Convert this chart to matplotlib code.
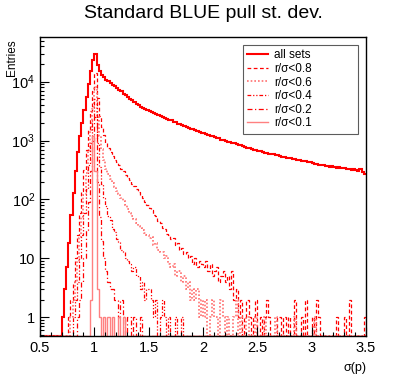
import numpy as np
import matplotlib
matplotlib.use('Agg')
import matplotlib.pyplot as plt
from matplotlib.ticker import FixedLocator, FixedFormatter, NullFormatter

plt.rcParams['font.family'] = ['Liberation Sans', 'DejaVu Sans']
plt.rcParams['mathtext.fontset'] = 'custom'
plt.rcParams['mathtext.rm'] = 'Liberation Sans'
plt.rcParams['mathtext.it'] = 'Liberation Sans:italic'

# binning: 150 bins from 0.5 to 3.5
x_lo, x_hi, n_bins = 0.5, 3.5, 150

# bin contents, 25 bins per row (0.5 units)
all_sets = [
    0, 0, 0, 0, 0, 0, 0, 0, 0, 0, 1, 3, 7, 18, 55, 130, 300, 650, 1200, 2000, 3300, 5500, 9000, 15000, 23000,
    30000, 19000, 15000, 13000, 11800, 10800, 10100, 9400, 8900, 8300, 7800, 7250, 6850, 6300, 5950, 5500, 5100, 4850, 4450, 4250, 4000, 3780, 3620, 3450, 3310,
    3200, 3040, 2950, 2790, 2710, 2600, 2490, 2430, 2330, 2270, 2200, 2100, 2030, 1940, 1890, 1820, 1750, 1710, 1630, 1600, 1550, 1490, 1460, 1400, 1370,
    1320, 1295, 1240, 1215, 1175, 1150, 1105, 1085, 1040, 1030, 1000, 960, 950, 915, 900, 870, 840, 830, 795, 785, 760, 735, 730, 700, 695,
    675, 655, 650, 625, 620, 600, 585, 585, 565, 563, 550, 535, 535, 515, 512, 500, 485, 487, 470, 468, 457, 445, 445, 428, 430,
    417, 405, 406, 390, 392, 380, 372, 374, 362, 363, 355, 348, 352, 342, 346, 340, 330, 335, 322, 324, 316, 306, 325, 288, 268,
]
r08 = [
    0, 0, 0, 0, 0, 0, 0, 0, 0, 0, 0, 0, 0, 1, 2, 4, 10, 25, 60, 140, 320, 700, 1500, 3200, 7000,
    14000, 5200, 2600, 1700, 1250, 920, 760, 640, 540, 470, 430, 380, 335, 300, 265, 235, 210, 185, 166, 148, 132, 118, 104, 92, 82,
    72, 66, 55, 52, 43, 40, 33, 31, 26, 25, 21, 22, 17, 18, 14, 15, 12, 13, 10, 11, 8, 10, 7, 9, 8,
    7, 9, 6, 8, 5, 6, 7, 4, 5, 6, 4, 5, 3, 6, 2, 3, 1, 2, 0, 1, 2, 1, 0, 1, 2,
    0, 1, 0, 1, 2, 1, 0, 0, 0, 1, 1, 0, 1, 0, 1, 0, 0, 2, 0, 0, 1, 0, 2, 0, 0,
    1, 0, 2, 1, 0, 0, 0, 0, 0, 0, 0, 1, 0, 0, 0, 1, 0, 2, 0, 0, 0, 0, 0, 0, 1,
]
r06 = [
    0, 0, 0, 0, 0, 0, 0, 0, 0, 0, 0, 0, 0, 0, 1, 2, 4, 9, 22, 50, 120, 280, 650, 1500, 3500,
    8000, 2500, 1200, 720, 460, 330, 270, 225, 190, 160, 140, 122, 106, 93, 80, 68, 60, 52, 46, 40, 36, 33, 30, 27, 25,
    22, 23, 17, 18, 14, 13, 13, 10, 11, 8, 7, 8, 5, 6, 6, 4, 5, 3, 4, 2, 3, 2, 3, 1, 2,
    1, 2, 0, 1, 2, 1, 1, 0, 2, 1, 0, 1, 0, 0, 1, 2, 0, 1, 0, 0, 1, 0, 0, 0, 1,
    0, 0, 0, 1, 0, 0, 0, 0, 1, 0, 0, 0, 0, 0, 0, 0, 0, 1, 0, 0, 0, 0, 0, 0, 0,
    0, 1, 0, 0, 0, 0, 0, 0, 0, 0, 0, 0, 0, 0, 0, 0, 0, 0, 0, 0, 0, 0, 0, 0, 0,
]
r04 = [
    0, 0, 0, 0, 0, 0, 0, 0, 0, 0, 0, 0, 0, 0, 0, 1, 2, 4, 10, 25, 60, 150, 380, 900, 2200,
    5000, 900, 350, 185, 105, 78, 52, 44, 31, 28, 21, 19, 14, 13, 10, 9, 8, 6, 7, 5, 5, 3, 4, 2, 3,
    3, 2, 1, 2, 0, 1, 2, 1, 0, 1, 0, 0, 1, 0, 0, 1, 0, 0, 0, 0, 0, 0, 0, 0, 0,
] + [0] * 75
r02 = [
    0, 0, 0, 0, 0, 0, 0, 0, 0, 0, 0, 0, 0, 0, 0, 0, 0, 1, 2, 4, 10, 30, 90, 300, 1000,
    2500, 200, 50, 20, 10, 6, 4, 3, 3, 2, 2, 1, 2, 1, 0, 1, 1, 0, 1, 0, 0, 1, 0, 0, 0,
] + [0] * 100
r01 = [
    0, 0, 0, 0, 0, 0, 0, 0, 0, 0, 0, 0, 0, 0, 0, 0, 0, 0, 0, 0, 0, 0, 0, 2, 1200,
    300, 3, 1, 0, 1, 0, 1, 0, 1, 0, 0, 1, 0, 1, 0, 0, 0, 0, 0, 0, 0, 0, 0, 0, 0,
] + [0] * 100

labels = ['all sets', 'r/σ<0.8', 'r/σ<0.6', 'r/σ<0.4', 'r/σ<0.2', 'r/σ<0.1']
x_ticks = [0.5, 1, 1.5, 2, 2.5, 3, 3.5]
x_tick_labels = ['0.5', '1', '1.5', '2', '2.5', '3', '3.5']
y_ticks = [1, 10, 100, 1000, 10000]
y_tick_labels = ['1', '10', r'$10^{2}$', r'$10^{3}$', r'$10^{4}$']

ymin, ymax = 0.48, 5.74e4
edges = np.linspace(x_lo, x_hi, n_bins + 1)

styles = [
    dict(color='red', lw=1.5, ls='-'),
    dict(color='red', lw=0.9, ls=(0, (3, 2))),
    dict(color='#ff7070', lw=1.2, ls=(0, (1, 1.2))),
    dict(color='red', lw=0.9, ls=(0, (3, 1.5, 1, 1.5, 1, 1.5))),
    dict(color='red', lw=0.9, ls=(0, (4, 2, 1, 2))),
    dict(color='#ff8080', lw=1.0, ls='-'),
]

fig = plt.figure(figsize=(4.07, 3.74), dpi=100)
ax = fig.add_axes([40 / 407, 38 / 374, 326 / 407, 299 / 374])
ax.set_yscale('log')

for vals, lab, st in zip([all_sets, r08, r06, r04, r02, r01], labels, styles):
    v = np.maximum(np.array(vals, dtype=float), ymin)
    ax.stairs(v, edges, baseline=None, label=lab, **st)

ax.set_xlim(x_lo, x_hi)
ax.set_ylim(ymin, ymax)

ax.xaxis.set_major_locator(FixedLocator(x_ticks))
ax.xaxis.set_major_formatter(FixedFormatter(x_tick_labels))
ax.xaxis.set_minor_locator(FixedLocator(np.arange(0.5, 3.51, 0.1)))
ax.yaxis.set_major_locator(FixedLocator(y_ticks))
ax.yaxis.set_major_formatter(FixedFormatter(y_tick_labels))
minors = [m * 10.0 ** d for d in range(-1, 5) for m in range(2, 10)]
ax.yaxis.set_minor_locator(FixedLocator(minors))
ax.yaxis.set_minor_formatter(NullFormatter())

ax.tick_params(which='both', direction='in', top=False, right=False, labelsize=10.5, width=0.8)
ax.tick_params(which='major', length=6.5)
ax.tick_params(which='minor', length=3.2)
for s in ax.spines.values():
    s.set_linewidth(1.0)

ax.set_xlabel('σ(p)', loc='right', fontsize=9, labelpad=5)
fig.text(12 / 407, 1 - 39 / 374, 'Entries', rotation=90, ha='center', va='top', fontsize=8.5)

fig.text(0.5, 1 - 17.5 / 374, 'Standard BLUE pull st. dev.', ha='center', va='baseline', fontsize=14)

leg = ax.legend(loc='upper left', bbox_to_anchor=(0.623, 0.682, 0.352, 0.291), mode='expand',
                borderaxespad=0, fancybox=False, edgecolor='#333333', fontsize=8.5,
                handlelength=1.8, handletextpad=0.5, labelspacing=0.14, borderpad=0.35)
leg.get_frame().set_linewidth(0.8)

fig.savefig('out.png', dpi=100)
